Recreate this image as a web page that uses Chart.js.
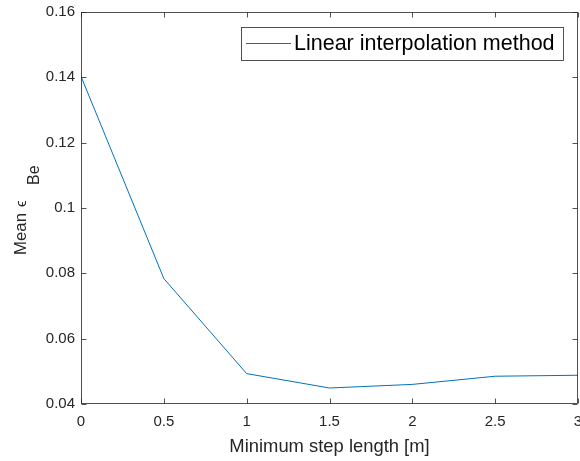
<!DOCTYPE html>
<html>
<head>
<meta charset="utf-8">
<script src="https://cdn.jsdelivr.net/npm/chart.js@4/dist/chart.umd.min.js"></script>
<style>
  html, body { margin: 0; padding: 0; background: #fff; }
  #wrap { width: 580px; height: 461px; position: relative; }
</style>
</head>
<body>
<div id="wrap"><canvas id="c" width="580" height="461"></canvas></div>
<script>
const stepLengths = [0, 0.5, 1, 1.5, 2, 2.5, 3];
const meanEpsBe = [0.1403, 0.0784, 0.0493, 0.0449, 0.0460, 0.0485, 0.0488];
const seriesName = 'Linear interpolation method';
const xTicks = [0, 0.5, 1, 1.5, 2, 2.5, 3];
const xTickLabels = ['0', '0.5', '1', '1.5', '2', '2.5', '3'];
const yTicks = [0.04, 0.06, 0.08, 0.1, 0.12, 0.14, 0.16];
const yTickLabels = ['0.04', '0.06', '0.08', '0.1', '0.12', '0.14', '0.16'];
const xTitle = 'Minimum step length [m]';
const yTitleMain = 'Mean';
const yTitleSym = '\u03F5';
const yTitleSub = 'Be';

const FONT = '"Liberation Sans", Arial, Helvetica, sans-serif';
const AX = '#262626';
const LINE = '#0072BD';

function lookup(ticks, labels, v) {
  const i = ticks.findIndex(t => Math.abs(t - v) < 1e-9);
  return i >= 0 ? labels[i] : '';
}

const decor = {
  id: 'decor',
  afterDraw(chart) {
    const ctx = chart.ctx;
    const a = chart.chartArea;
    const xs = chart.scales.x, ys = chart.scales.y;
    ctx.save();
    // box
    ctx.strokeStyle = AX;
    ctx.lineWidth = 0.8;
    const L = Math.round(a.left) + 0.5, R = Math.round(a.right) - 0.5;
    const T = Math.round(a.top) + 0.5, B = Math.round(a.bottom) - 0.5;
    ctx.strokeRect(L, T, R - L, B - T);
    // inward ticks
    const tl = 5;
    ctx.beginPath();
    xTicks.forEach(v => {
      const px = Math.round(xs.getPixelForValue(v)) + 0.5;
      ctx.moveTo(px, B); ctx.lineTo(px, B - tl);
      ctx.moveTo(px, T); ctx.lineTo(px, T + tl);
    });
    yTicks.forEach(v => {
      const py = Math.round(ys.getPixelForValue(v)) + 0.5;
      ctx.moveTo(L, py); ctx.lineTo(L + tl, py);
      ctx.moveTo(R, py); ctx.lineTo(R - tl, py);
    });
    ctx.stroke();

    // x title
    ctx.fillStyle = AX;
    ctx.font = '18.4px ' + FONT;
    ctx.textAlign = 'center';
    ctx.textBaseline = 'middle';
    ctx.fillText(xTitle, (a.left + a.right) / 2, 446.5);

    // y title (rotated) with subscript
    ctx.save();
    ctx.rotate(-Math.PI / 2);
    ctx.textAlign = 'left';
    ctx.textBaseline = 'alphabetic';
    ctx.font = '16.8px ' + FONT;
    ctx.fillText(yTitleMain, -255, 26);
    ctx.font = '15px ' + FONT;
    ctx.fillText(yTitleSym, -207, 26);
    ctx.font = '16px ' + FONT;
    ctx.fillText(yTitleSub, -185, 39);
    ctx.restore();

    // legend
    const lx = 241, ly = 27, lw = 322, lh = 33;
    ctx.fillStyle = '#fff';
    ctx.fillRect(lx, ly, lw, lh);
    ctx.strokeStyle = AX;
    ctx.lineWidth = 0.8;
    ctx.strokeRect(lx + 0.5, ly + 0.5, lw, lh);
    ctx.strokeStyle = LINE;
    ctx.lineWidth = 1;
    ctx.beginPath();
    ctx.moveTo(246, 43.5); ctx.lineTo(291, 43.5);
    ctx.stroke();
    ctx.fillStyle = '#000';
    ctx.font = '21.5px ' + FONT;
    ctx.textAlign = 'left';
    ctx.textBaseline = 'middle';
    ctx.fillText(seriesName, 294, 44);
    ctx.restore();
  }
};

new Chart(document.getElementById('c'), {
  type: 'line',
  data: {
    datasets: [{
      label: seriesName,
      data: stepLengths.map((x, i) => ({ x: x, y: meanEpsBe[i] })),
      borderColor: LINE,
      borderWidth: 1,
      pointRadius: 0,
      fill: false,
      tension: 0
    }]
  },
  options: {
    responsive: false,
    animation: false,
    devicePixelRatio: 1,
    layout: { padding: { left: 0, right: 2, top: 12, bottom: 0 } },
    plugins: { legend: { display: false }, tooltip: { enabled: false }, title: { display: false } },
    scales: {
      x: {
        type: 'linear', min: 0, max: 3,
        grid: { display: false, drawTicks: false },
        border: { display: false },
        afterBuildTicks: s => { s.ticks = xTicks.map(v => ({ value: v })); },
        afterFit: s => { s.height = 57; s.paddingLeft = 0; s.paddingRight = 0; },
        ticks: {
          color: AX, padding: 9,
          font: { family: FONT, size: 15 },
          maxRotation: 0, autoSkip: false,
          callback: v => lookup(xTicks, xTickLabels, v)
        }
      },
      y: {
        type: 'linear', min: 0.04, max: 0.16,
        grid: { display: false, drawTicks: false },
        border: { display: false },
        afterBuildTicks: s => { s.ticks = yTicks.map(v => ({ value: v })); },
        afterFit: s => { s.width = 81; s.paddingTop = 0; s.paddingBottom = 0; },
        ticks: {
          color: AX, padding: 6,
          font: { family: FONT, size: 15 },
          autoSkip: false,
          callback: v => lookup(yTicks, yTickLabels, v)
        }
      }
    }
  },
  plugins: [decor]
});
</script>
</body>
</html>
